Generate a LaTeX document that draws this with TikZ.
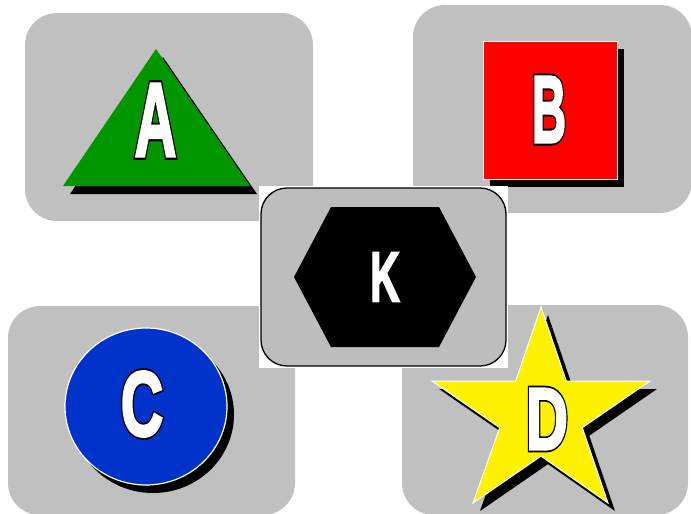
\documentclass[tikz,border=0pt]{standalone}
\usepackage{fontspec}
\setmainfont{Liberation Sans}
\newfontfamily\outfont[FakeBold=7]{Liberation Sans Bold}
\newfontfamily\fillfont[FakeBold=3]{Liberation Sans Bold}
\usepackage{graphicx}
\usetikzlibrary{shadows}
\definecolor{boxgray}{RGB}{192,192,192}
\definecolor{kgray}{RGB}{189,189,189}
\definecolor{shgreen}{RGB}{0,150,0}
\definecolor{shblue}{RGB}{0,51,204}
\newcommand{\outlinedletter}[3]{\fontsize{#1}{#1}\selectfont\scalebox{#2}[1]{\rlap{\color{black}\outfont #3}{\color{white}\fillfont #3}}}
\begin{document}
\begin{tikzpicture}[x=1pt,y=-1pt,
  graybox/.style={fill=boxgray, rounded corners=32pt},
  shad/.style={drop shadow={shadow xshift=7pt,shadow yshift=-8pt,fill=black,opacity=1}},
  letter/.style={inner sep=0pt, text=white}]
\useasboundingbox (0,0) rectangle (691,514);
% gray panels
\fill[graybox] (25,13) rectangle (313,221);
\fill[graybox] (413,5) rectangle (692,213);
\fill[graybox] (8,306) rectangle (295,515);
\fill[graybox] (402,305) rectangle (688,515);
% triangle A
\fill[shgreen, shad] (156,49) -- (250,186) -- (63,186) -- cycle;
% square B
\filldraw[fill=red, draw=white, line width=1pt, shad] (483,41) rectangle (617,179);
% circle C
\filldraw[fill=shblue, draw=white, line width=1.2pt, shad] (146,406.5) ellipse [x radius=81, y radius=78.5];
% star D
\filldraw[fill=yellow, draw=white, line width=1pt, shad]
  (541,307) -- (566.3,381) -- (650,381) -- (582.3,427.7) -- (608,503) -- (541,456.1)
  -- (473,503) -- (499.7,427.7) -- (432,381) -- (515.7,381) -- cycle;
% centre K
\fill[white] (259,186) rectangle (508,368);
\filldraw[fill=kgray, draw=black, line width=1.3pt, rounded corners=26pt] (261,188) rectangle (506,366);
\fill[black] (294,277) -- (331,207) -- (439,207) -- (476,277) -- (439,347) -- (331,347) -- cycle;
% letters
\node[letter] (la) at (155.5,120) {\outlinedletter{105}{0.55}{A}};
\node[letter] (lb) at (549,109.5) {\outlinedletter{95}{0.50}{B}};
\node[letter] (lc) at (142,404) {\outlinedletter{92}{0.64}{C}};
\node[letter] (ld) at (547,419) {\outlinedletter{88}{0.66}{D}};
\node[letter] (lk) at (385,277) {\fontsize{71}{71}\selectfont\scalebox{0.58}[1]{\fillfont K}};
\end{tikzpicture}
\end{document}
